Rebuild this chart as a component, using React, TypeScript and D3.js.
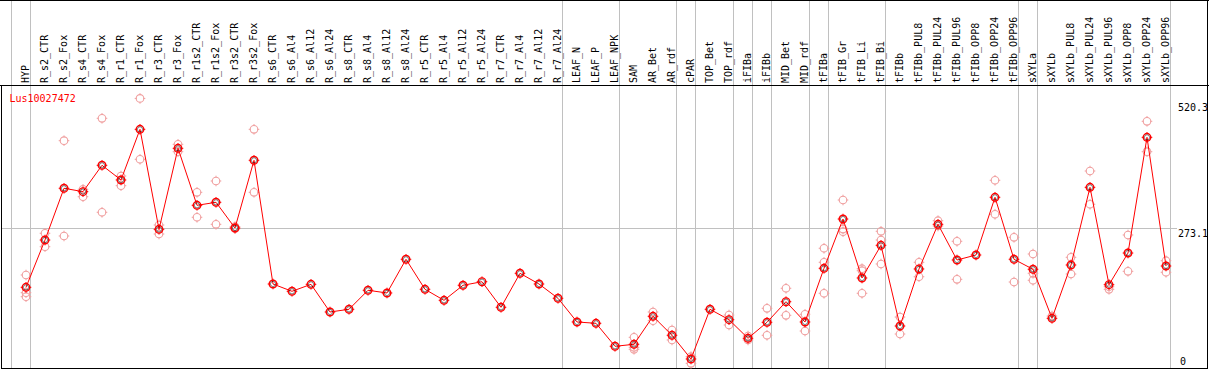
import React from "react";
import * as d3 from "d3";

const geneId = "Lus10027472";

const categories = [
  "HYP", "R_s2_CTR", "R_s2_Fox", "R_s4_CTR", "R_s4_Fox", "R_r1_CTR", "R_r1_Fox", "R_r3_CTR", "R_r3_Fox",
  "R_r1s2_CTR", "R_r1s2_Fox", "R_r3s2_CTR", "R_r3s2_Fox", "R_s6_CTR", "R_s6_Al4", "R_s6_Al12", "R_s6_Al24",
  "R_s8_CTR", "R_s8_Al4", "R_s8_Al12", "R_s8_Al24", "R_r5_CTR", "R_r5_Al4", "R_r5_Al12", "R_r5_Al24",
  "R_r7_CTR", "R_r7_Al4", "R_r7_Al12", "R_r7_Al24", "LEAF_N", "LEAF_P", "LEAF_NPK", "SAM", "AR_Bet", "AR_rdf",
  "cPAR", "TOP_Bet", "TOP_rdf", "iFIBa", "iFIBb", "MID_Bet", "MID_rdf", "tFIBa", "tFIB_Gr", "tFIB_Li", "tFIB_Bi",
  "tFIBb", "tFIBb_PUL8", "tFIBb_PUL24", "tFIBb_PUL96", "tFIBb_OPP8", "tFIBb_OPP24", "tFIBb_OPP96",
  "sXYLa", "sXYLb", "sXYLb_PUL8", "sXYLb_PUL24", "sXYLb_PUL96", "sXYLb_OPP8", "sXYLb_OPP24", "sXYLb_OPP96",
];

const means = [
  157.3, 250.1, 351.6, 345, 396.7, 367.9, 467.3, 271.1, 430,
  318.2, 324.1, 273.7, 406.5, 163.8, 149.5, 163.2, 108.9,
  114.2, 151.5, 146.2, 212.3, 153.4, 131.8, 161.3, 168.3,
  118.1, 184.8, 163.8, 135.8, 89.3, 86.7, 41.6, 45.5, 100.4, 63.2,
  16.7, 114.2, 93.8, 57.3, 88.7, 129.1, 89.3, 194.6, 291.3, 175.6, 239.7,
  81.4, 193.3, 280.9, 210.9, 220.7, 333.9, 212.3,
  192.7, 96.5, 201.1, 353.5, 162.5, 224.6, 451.6, 199.1,
];

const replicates: number[][] = [
  [181.5, 146.8, 138.9], [263.3, 237], [445, 258], [349.6, 335], [488.9, 304.5], [375.7, 356.7], [527.9, 408.5], [279.6, 261.9], [437.9, 423.4],
  [343.7, 294.7], [365.9, 280.9], [276.3, 272.3], [467.3, 343.7], [], [], [], [],
  [], [], [], [], [], [], [], [],
  [], [], [], [], [], [], [], [59.2, 39.6, 35.7], [108.9, 91.8], [73.6, 54],
  [21.2, 8.2], [], [103, 83.4], [61.8, 54], [116.1, 63.2], [155.4, 102.4], [104.4, 71.6], [233.9, 206.4, 145.6], [328.6, 271.6, 266.4], [193.8, 189.9, 145.6], [267.2, 250.1, 203.1],
  [99, 65.7], [206.4, 178.1], [288, 277.6], [247.6, 173], [], [367.3, 300.6], [255.4, 167.7],
  [222.7, 184.8, 171.1], [101], [216.2, 183.4], [385.5, 320.2], [158.5, 153.4], [260, 188.7], [483, 423.4], [209.5, 186.8],
];

// last category of each group (separator drawn after it)
const groupEnds = ["HYP", "R_r7_Al24", "LEAF_NPK", "AR_rdf", "cPAR", "TOP_rdf", "iFIBa", "iFIBb", "MID_rdf", "tFIBa", "tFIB_Bi", "tFIBb_OPP96", "sXYLa", "sXYLb_OPP96"];

const yTicks = [520.3, 273.1, 0];
const yMax = 520.3;

const W = 1209;
const H = 370;
const FONT = "'DejaVu Sans Mono', monospace";

function Marker({ x, y, main }: { x: number; y: number; main: boolean }) {
  const c = main ? "#ff0000" : "#f0a0a0";
  const r = 3.8;
  return (
    <g>
      <circle cx={x} cy={y} r={r} fill="none" stroke={c} strokeWidth={main ? 1.4 : 1.1} />
      <line x1={x} x2={x} y1={y - r - 1.5} y2={y - r + 0.5} stroke={c} strokeWidth={1} />
      <line x1={x} x2={x} y1={y + r - 0.5} y2={y + r + 1.5} stroke={c} strokeWidth={1} />
      <line x1={x - r - 1.5} x2={x - r + 0.5} y1={y} y2={y} stroke={c} strokeWidth={1} />
      <line x1={x + r - 0.5} x2={x + r + 1.5} y1={y} y2={y} stroke={c} strokeWidth={1} />
      {main && <circle cx={x} cy={y} r={2.6} fill="none" stroke="#000" strokeWidth={0.5} />}
    </g>
  );
}

export default function App() {
  const x = d3.scalePoint<string>().domain(categories).range([26, 1166]);
  const step = x.step();
  const y = d3.scaleLinear().domain([0, yMax]).range([367.5, 102.3]);
  const line = d3
    .line<number>()
    .x((_, i) => x(categories[i]) as number)
    .y((d) => y(d));

  const sepXs = [
    (x(categories[0]) as number) - step + 4.5,
    ...groupEnds.map((g) => (x(g) as number) + 4.5),
  ];

  return (
    <svg
      width={W}
      height={H}
      style={{ position: "absolute", left: 0, top: 0, background: "#fff" }}
      fontFamily={FONT}
    >
      <rect x={0} y={0} width={W} height={H} fill="#fff" />
      {/* vertical group separators */}
      {sepXs.map((sx, i) => (
        <line key={i} x1={sx} x2={sx} y1={0} y2={368} stroke="#c0c0c0" strokeWidth={1} />
      ))}
      {/* horizontal grid at middle tick */}
      <line x1={1} x2={1177} y1={Math.round(y(273.1)) + 0.5} y2={Math.round(y(273.1)) + 0.5} stroke="#c0c0c0" strokeWidth={1} />
      {/* frame */}
      <line x1={0} x2={W} y1={0.5} y2={0.5} stroke="#000" />
      <line x1={0} x2={W} y1={85.5} y2={85.5} stroke="#000" />
      <line x1={1.5} x2={1.5} y1={85} y2={369} stroke="#000" />
      <line x1={1207.5} x2={1207.5} y1={0} y2={369} stroke="#000" />
      <line x1={1} x2={1208} y1={368.5} y2={368.5} stroke="#000" />

      {/* category labels */}
      {categories.map((c) => (
        <text
          key={c}
          transform={`translate(${(x(c) as number) - 0.5},83) rotate(-90)`}
          fontSize={10}
          dy="0.35em"
          fill="#000"
        >
          {c}
        </text>
      ))}

      {/* title */}
      <text x={9.5} y={101.5} fontSize={10} fill="#ff0000">
        {geneId}
      </text>

      {/* right axis labels */}
      {yTicks.map((t) => (
        <text
          key={t}
          x={t === 0 ? 1180 : 1178}
          y={t === 0 ? 365 : y(t) + 9}
          fontSize={10}
          fill="#000"
        >
          {t === 0 ? "0" : t.toFixed(1)}
        </text>
      ))}

      {/* replicates */}
      {replicates.map((reps, i) =>
        reps.map((v, j) => (
          <Marker key={`${i}-${j}`} x={x(categories[i]) as number} y={y(v)} main={false} />
        ))
      )}

      {/* mean line */}
      <path d={line(means) || ""} fill="none" stroke="#ff0000" strokeWidth={1} />

      {/* means */}
      {means.map((v, i) => (
        <Marker key={i} x={x(categories[i]) as number} y={y(v)} main={true} />
      ))}
    </svg>
  );
}
